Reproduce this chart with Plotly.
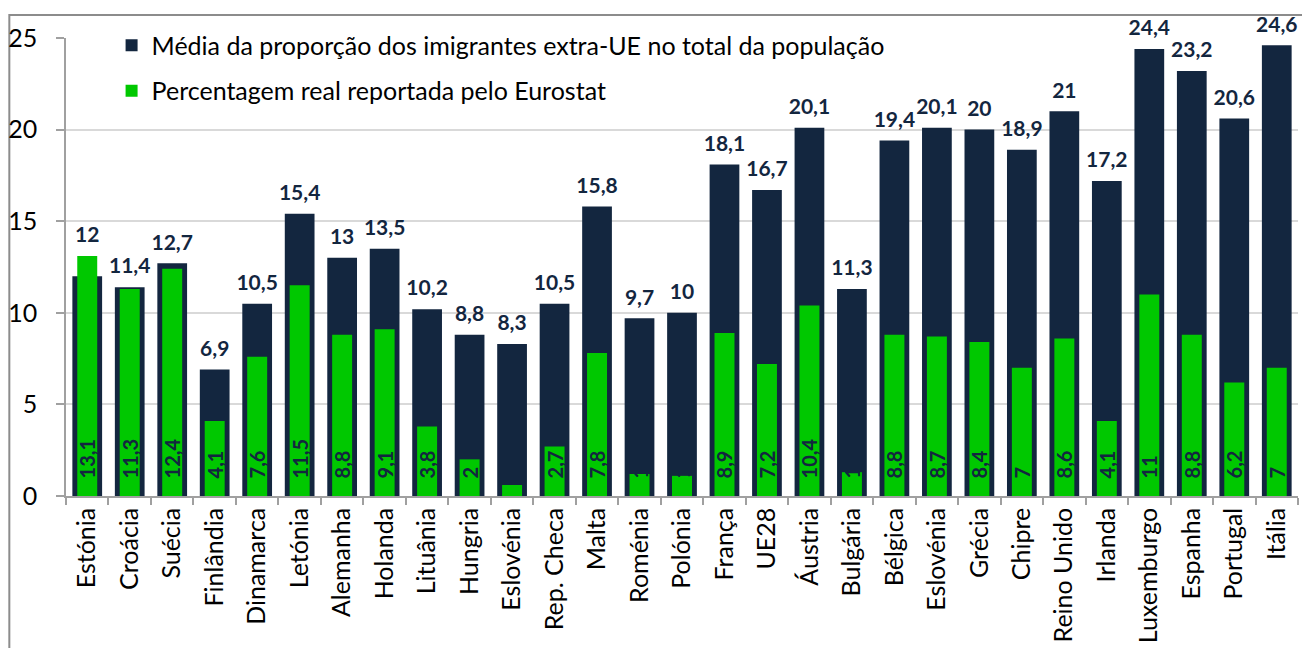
import plotly.graph_objects as go

countries = [
    "Estónia", "Croácia", "Suécia", "Finlândia", "Dinamarca", "Letónia", "Alemanha",
    "Holanda", "Lituânia", "Hungria", "Eslovénia", "Rep. Checa", "Malta", "Roménia",
    "Polónia", "França", "UE28", "Áustria", "Bulgária", "Bélgica", "Eslovénia",
    "Grécia", "Chipre", "Reino Unido", "Irlanda", "Luxemburgo", "Espanha", "Portugal", "Itália",
]
media_extra_ue = [
    12, 11.4, 12.7, 6.9, 10.5, 15.4, 13, 13.5, 10.2, 8.8, 8.3, 10.5, 15.8, 9.7,
    10, 18.1, 16.7, 20.1, 11.3, 19.4, 20.1, 20, 18.9, 21, 17.2, 24.4, 23.2, 20.6, 24.6,
]
eurostat_real = [
    13.1, 11.3, 12.4, 4.1, 7.6, 11.5, 8.8, 9.1, 3.8, 2, 0.6, 2.7, 7.8, 1.2,
    1.1, 8.9, 7.2, 10.4, 1.3, 8.8, 8.7, 8.4, 7, 8.6, 4.1, 11, 8.8, 6.2, 7,
]

NAVY = "#13263f"
GREEN = "#00c800"
AXIS_GREY = "#a0a0a0"
FONT = "Lato"


def pt(v):
    return f"{v:g}".replace(".", ",")


# two "Eslovénia" entries -> use positions, names go on the tick labels
xpos = list(range(len(countries)))

# the 0,6 bar has no label in the original
green_text = ["" if v < 1 else "\u00a0\u00a0\u00a0" + pt(v) for v in eurostat_real]
# navy labels sit above whichever bar is taller
label_y = [max(a, b) for a, b in zip(media_extra_ue, eurostat_real)]

fig = go.Figure()
fig.add_trace(go.Bar(
    x=xpos, y=media_extra_ue, width=0.7,
    name="Média da proporção dos imigrantes extra-UE no total da população",
    legendgroup="a",
    marker=dict(color=NAVY, line=dict(width=0)),
))
fig.add_trace(go.Bar(
    x=xpos, y=eurostat_real, width=0.47,
    name="Percentagem real reportada pelo Eurostat",
    legendgroup="b",
    marker=dict(color=GREEN, line=dict(width=0)),
    text=green_text, textposition="inside",
    insidetextanchor="start", textangle=-90, constraintext="none",
    textfont=dict(family=FONT, size=20, color=NAVY, weight="bold"),
))
fig.add_trace(go.Scatter(
    x=xpos, y=label_y, mode="markers+text",
    marker=dict(size=12, opacity=0),
    text=[pt(v) for v in media_extra_ue], textposition="top center",
    textfont=dict(family=FONT, size=21, color=NAVY, weight="bold"),
    showlegend=False, hoverinfo="skip", cliponaxis=False,
))

# page body adds an 8px margin, so the figure is 8px smaller each way
fig.update_layout(
    width=1302, height=640,
    barmode="overlay",
    paper_bgcolor="white", plot_bgcolor="white",
    font=dict(family=FONT, size=25, color="black"),
    margin=dict(l=58, r=12, t=30, b=152, autoexpand=False),
    legend=dict(
        x=0.037, y=1.034, xanchor="left", yanchor="top",
        bgcolor="rgba(0,0,0,0)", font=dict(size=25),
        tracegroupgap=10, itemwidth=30,
    ),
    xaxis=dict(
        range=[-0.5, len(countries) - 0.5],
        tickmode="array", tickvals=xpos, ticktext=countries,
        tickangle=-90, ticks="", showgrid=False, automargin=False,
        showline=True, linecolor=AXIS_GREY, linewidth=1.5,
        minor=dict(tick0=-0.5, dtick=1, ticks="outside", ticklen=7,
                   tickcolor=AXIS_GREY, tickwidth=1.5, showgrid=False),
        tickfont=dict(size=25),
    ),
    yaxis=dict(
        range=[0, 25], tickvals=[0, 5, 10, 15, 20, 25],
        showgrid=True, gridcolor="#d9d9d9", gridwidth=1.5,
        ticks="outside", ticklen=8, tickcolor=AXIS_GREY, tickwidth=1.5,
        ticklabelstandoff=14,
        showline=True, linecolor=AXIS_GREY, linewidth=1.5,
        zeroline=False, automargin=False,
        tickfont=dict(size=25),
    ),
    shapes=[dict(
        type="rect", xref="paper", yref="paper",
        x0=-0.046, x1=1.0073, y0=-0.4, y1=1.05,
        line=dict(color="#8c8c8c", width=2), fillcolor="rgba(0,0,0,0)", layer="below",
    )],
)

fig.write_html("out.html")
